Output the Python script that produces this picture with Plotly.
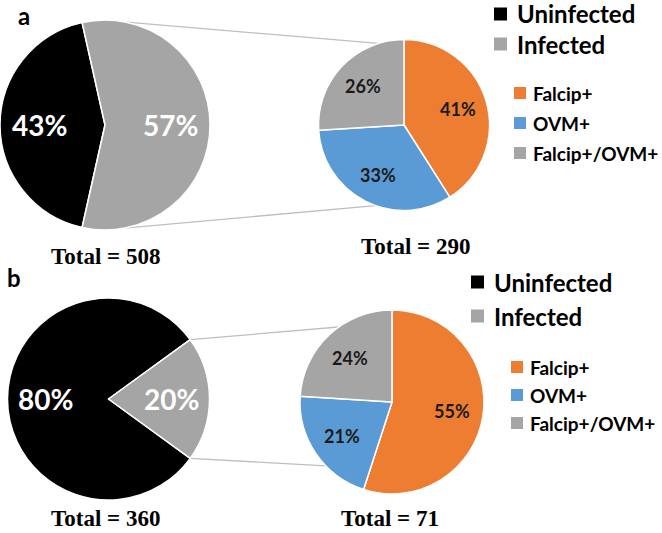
import math
import plotly.graph_objects as go

W, H = 662, 533

# ---------------- data ----------------
outer_labels = ["Uninfected", "Infected"]
outer_a = [43, 57]
outer_b = [80, 20]
inner_labels = ["Falcip+", "OVM+", "Falcip+/OVM+"]
inner_a = [41, 33, 26]
inner_b = [55, 21, 24]
totals = {"a": 508, "a_inf": 290, "b": 360, "b_inf": 71}
panel_letters = ["a", "b"]

outer_colors = ["#000000", "#A5A5A5"]
inner_colors = ["#ED7D31", "#5B9BD5", "#A5A5A5"]
SANS = "Lato"
SERIF = "Liberation Serif"

# pie geometry (pixel centre, radius) -- layout styling
geo = {
    "a_big": (105, 125, 105),
    "a_small": (404, 125, 85.5),
    "b_big": (108.5, 399, 101),
    "b_small": (392, 402, 92),
}


def domain(cx, cy, r):
    return dict(x=[max(0, (cx - r) / W), (cx + r) / W], y=[1 - (cy + r) / H, 1 - (cy - r) / H])


def pt(key, compass_deg, frac=1.0):
    cx, cy, r = geo[key]
    a = math.radians(compass_deg)
    return cx + frac * r * math.sin(a), cy - frac * r * math.cos(a)


fig = go.Figure()
annotations = []
shapes = []


def slice_labels(vals, rotation, key, frac, font):
    total = sum(vals)
    start = rotation
    for v in vals:
        span = v / total * 360
        mid = start + span / 2
        x, y = pt(key, mid, frac)
        annotations.append(dict(xref="paper", yref="paper", x=x / W, y=1 - y / H,
                                xanchor="center", yanchor="middle", showarrow=False,
                                text=f"{v / total * 100:.0f}%", font=font))
        start += span


def add_outer(vals, key):
    inf_share = vals[1] / sum(vals) * 360
    # compass angle where the first (uninfected) slice starts, infected centred at 3 o'clock
    start = 90 + inf_share / 2
    fig.add_trace(go.Pie(
        labels=outer_labels, values=vals, sort=False, direction="clockwise",
        rotation=start,
        marker=dict(colors=outer_colors, line=dict(color="white", width=1.5)),
        textinfo="none", domain=domain(*geo[key]), showlegend=False,
        hoverinfo="label+percent",
    ))
    slice_labels(vals, start, key, 0.62,
                 dict(family=SANS, size=28, color="white", weight="bold"))


def add_inner(vals, key):
    fig.add_trace(go.Pie(
        labels=inner_labels, values=vals, sort=False, direction="clockwise", rotation=0,
        marker=dict(colors=inner_colors, line=dict(color="white", width=1.5)),
        textinfo="none", domain=domain(*geo[key]), showlegend=False,
        hoverinfo="label+percent",
    ))
    slice_labels(vals, 0, key, 0.66,
                 dict(family=SANS, size=18, color="#1a1a1a", weight="bold"))


add_outer(outer_a, "a_big")
add_inner(inner_a, "a_small")
add_outer(outer_b, "b_big")
add_inner(inner_b, "b_small")

# connector lines (style angles)
connectors = [
    (("a_big", 11.8), ("a_small", 342.6)),
    (("a_big", 169.3), ("a_small", 199.5)),
    (("b_big", 54), ("b_small", 324.6)),
    (("b_big", 126), ("b_small", 226)),
]
for (k1, a1), (k2, a2) in connectors:
    x0, y0 = pt(k1, a1)
    x1, y1 = pt(k2, a2)
    shapes.append(dict(type="line", xref="paper", yref="paper",
                       x0=x0 / W, y0=1 - y0 / H, x1=x1 / W, y1=1 - y1 / H,
                       line=dict(color="#BFBFBF", width=1.3), layer="below"))


def legend(labels, colors, x_sq, ys, size_sq, font_size, text_dx):
    for lab, col, y in zip(labels, colors, ys):
        shapes.append(dict(type="rect", xref="paper", yref="paper",
                           x0=x_sq / W, x1=(x_sq + size_sq) / W,
                           y0=1 - (y + size_sq / 2) / H, y1=1 - (y - size_sq / 2) / H,
                           fillcolor=col, line=dict(width=0)))
        annotations.append(dict(xref="paper", yref="paper", x=(x_sq + size_sq + text_dx) / W,
                                y=1 - y / H, xanchor="left", yanchor="middle", showarrow=False,
                                text=lab, font=dict(family=SANS, size=font_size, color="black",
                                                    weight="bold")))


legend(outer_labels, outer_colors, 494, [14, 44], 13, 24, 8)
legend(inner_labels, inner_colors, 514, [93, 123, 153], 12, 19, 5)
legend(outer_labels, outer_colors, 471, [282, 316], 13, 24, 8)
legend(inner_labels, inner_colors, 511, [367, 395, 423], 12, 19, 5)

# totals
for key, cx, cy, anchor in [("a", 105, 256, "middle"), ("a_inf", 415, 247, "middle"),
                            ("b", 105, H, "bottom"), ("b_inf", 390, H, "bottom")]:
    annotations.append(dict(xref="paper", yref="paper", x=cx / W, y=1 - cy / H,
                            xanchor="center", yanchor=anchor, showarrow=False,
                            text=f"Total = {totals[key]}",
                            font=dict(family=SERIF, size=23, color="black", weight="bold")))

# panel letters
for lab, (cx, cy) in zip(panel_letters, [(24, 15), (14, 277)]):
    annotations.append(dict(xref="paper", yref="paper", x=cx / W, y=1 - cy / H,
                            xanchor="center", yanchor="middle", showarrow=False, text=lab,
                            font=dict(family=SANS, size=24, color="black", weight="bold")))

fig.update_layout(width=W, height=H, margin=dict(l=0, r=0, t=0, b=0),
                  paper_bgcolor="white", plot_bgcolor="white",
                  shapes=shapes, annotations=annotations, showlegend=False)

fig.write_html("out.html", config={"displayModeBar": False},
               post_script="document.body.style.margin='0px';")
